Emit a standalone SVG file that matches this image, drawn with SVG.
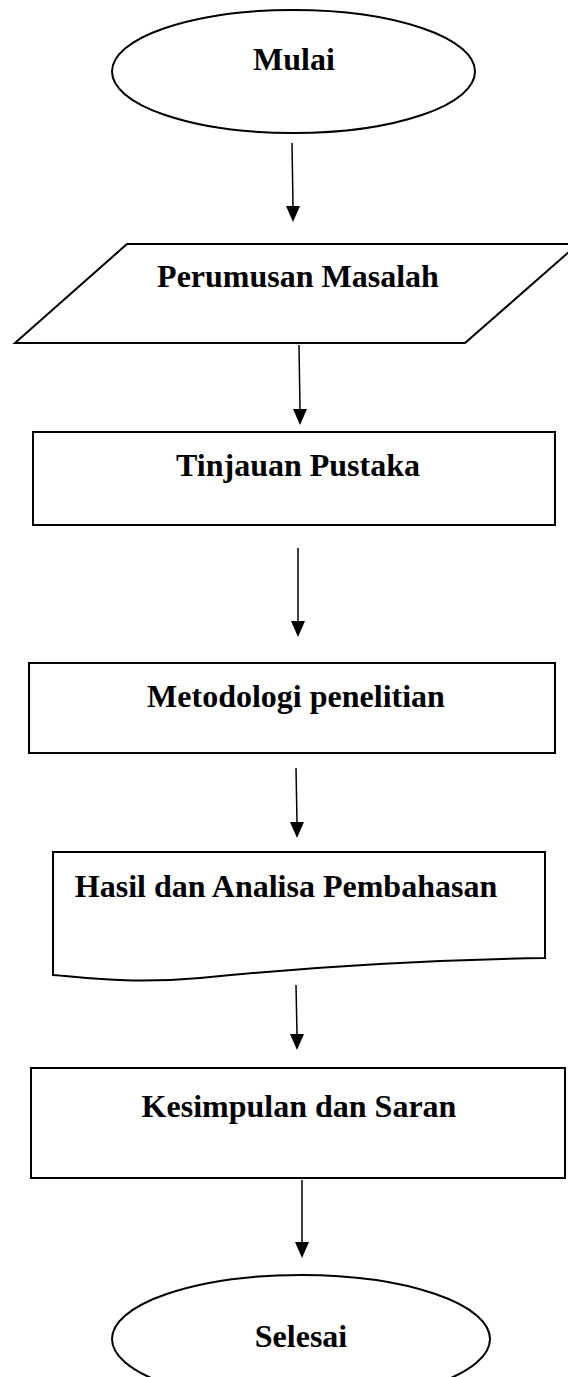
<svg xmlns="http://www.w3.org/2000/svg" width="568" height="1377" viewBox="0 0 568 1377">
<defs>
<style>
.shape{fill:#fff;stroke:#000;stroke-width:2}
.lbl{font-family:"Liberation Serif","Times New Roman",serif;font-weight:bold;font-size:32px;fill:#000;text-anchor:middle}
.conn{stroke:#000;stroke-width:1.5;fill:none}
.head{fill:#000}
</style>
</defs>
<rect width="568" height="1377" fill="#fff"/>
<g id="connectors">
<line class="conn" x1="292" y1="143" x2="293" y2="206"/>
<path class="head" d="M286,206 L300,206 L293,222 Z"/>
<line class="conn" x1="299" y1="345" x2="300" y2="409"/>
<path class="head" d="M293,409 L307,409 L300,425 Z"/>
<line class="conn" x1="298" y1="548" x2="298" y2="621"/>
<path class="head" d="M291,621 L305,621 L298,637 Z"/>
<line class="conn" x1="296" y1="768" x2="297" y2="822"/>
<path class="head" d="M290,822 L304,822 L297,838 Z"/>
<line class="conn" x1="296" y1="985" x2="297" y2="1034"/>
<path class="head" d="M290,1034 L304,1034 L297,1050 Z"/>
<line class="conn" x1="302" y1="1180" x2="302" y2="1242"/>
<path class="head" d="M295,1242 L309,1242 L302,1258 Z"/>
</g>
<g id="mulai">
<ellipse class="shape" cx="293.5" cy="71.5" rx="181.5" ry="61.5"/>
<text class="lbl" x="294" y="70">Mulai</text>
</g>
<g id="perumusan">
<polygon class="shape" points="127,244 578,244 465,343 15,343"/>
<text class="lbl" x="298" y="287">Perumusan Masalah</text>
</g>
<g id="tinjauan">
<rect class="shape" x="33" y="432" width="522" height="93"/>
<text class="lbl" x="298" y="476">Tinjauan Pustaka</text>
</g>
<g id="metodologi">
<rect class="shape" x="29" y="663" width="526" height="90"/>
<text class="lbl" x="296" y="707">Metodologi penelitian</text>
</g>
<g id="hasil">
<path class="shape" d="M53,852 L545,852 L545,958 C420,960 300,968 200,978 C130,984 90,978 53,975 Z"/>
<text class="lbl" x="286" y="897">Hasil dan Analisa Pembahasan</text>
</g>
<g id="kesimpulan">
<rect class="shape" x="31" y="1068" width="534" height="110"/>
<text class="lbl" x="299" y="1117">Kesimpulan dan Saran</text>
</g>
<g id="selesai">
<ellipse class="shape" cx="301" cy="1339" rx="189" ry="64"/>
<text class="lbl" x="301" y="1347">Selesai</text>
</g>
</svg>
